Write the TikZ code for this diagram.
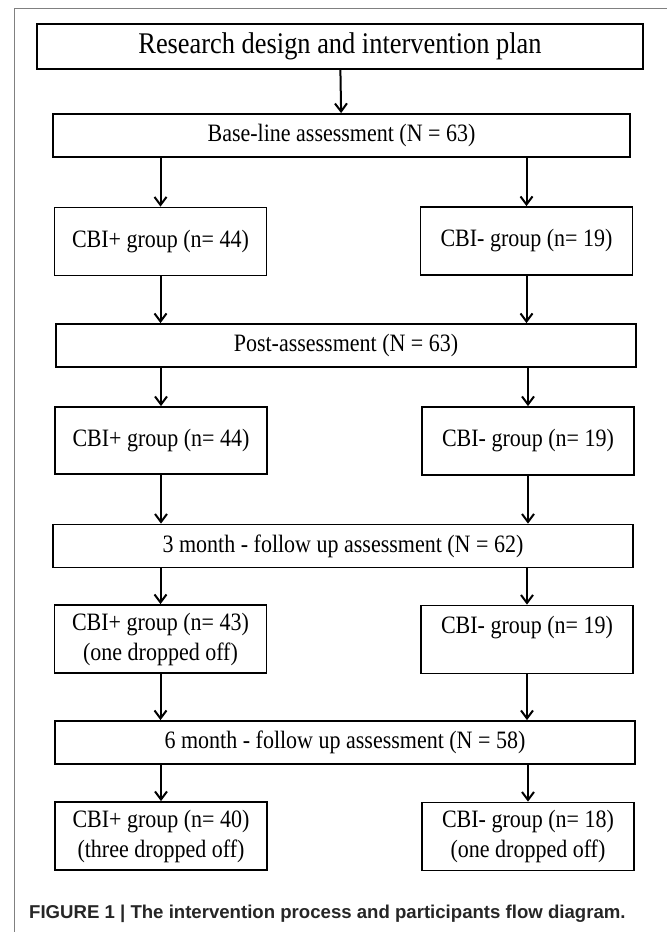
\documentclass[tikz,border=0pt]{standalone}
\usepackage{fontspec}
\setmainfont[FakeStretch=0.88]{Liberation Serif}
\setsansfont{Liberation Sans}
\usetikzlibrary{arrows.meta,positioning}

\begin{document}
\begin{tikzpicture}[x=1pt,y=-1pt,
    box/.style={draw, line width=1.8pt, inner sep=0pt, align=center,
      font=\fontsize{25}{30}\selectfont},
    wide/.style={box, minimum width=580pt, minimum height=43pt},
    grp/.style={box, minimum width=212pt, minimum height=68pt},
    arr/.style={-{Straight Barb[length=8pt,width=12pt]}, line width=2pt}]
        \useasboundingbox (0,0) rectangle (667,932);
        % Bingkai
        \draw[gray, line width=1pt] (14,932) -- (14,8) -- (667,8);
        % Judul
        \node[box, minimum width=606pt, minimum height=45pt,
          font=\fontsize{30}{32}\selectfont] (plan) at (340,46.5) {Research design and intervention plan};
        % Tahap penilaian
        \node[wide, minimum width=577pt] (base) at (341.5,135.5) {Base-line assessment (N = 63)};
        \node[wide] (post) at (346,345.5) {Post-assessment (N = 63)};
        \node[wide] (three) at (343,546) {3 month - follow up assessment (N = 62)};
        \node[wide] (six) at (345,742.5) {6 month - follow up assessment (N = 58)};
        % Kelompok CBI+
        \node[grp] (plusA) at (160.5,241.5) {CBI+ group (n= 44)};
        \node[grp, minimum height=67pt] (plusB) at (161,440.5) {CBI+ group (n= 44)};
        \node[grp] (plusC) at (160.5,639) {CBI+ group (n= 43)\\(one dropped off)};
        \node[grp] (plusD) at (161,836) {CBI+ group (n= 40)\\(three dropped off)};
        % Kelompok CBI-
        \node[grp] (minA) at (526.5,241) {CBI- group (n= 19)};
        \node[grp] (minB) at (528,441) {CBI- group (n= 19)};
        \node[grp] (minC) at (527,639.5) {CBI- group (n= 19)\\~};
        \node[grp] (minD) at (528,836.5) {CBI- group (n= 18)\\(one dropped off)};
        % Panah
        \draw[arr] (plan) -- (base);
        \draw[arr] (base.south -| plusA.north) -- (plusA);
        \draw[arr] (base.south -| minA.north) -- (minA);
        \draw[arr] (plusA) -- (plusA.south |- post.north);
        \draw[arr] (minA) -- (minA.south |- post.north);
        \draw[arr] (post.south -| plusB.north) -- (plusB);
        \draw[arr] (post.south -| minB.north) -- (minB);
        \draw[arr] (plusB) -- (plusB.south |- three.north);
        \draw[arr] (minB) -- (minB.south |- three.north);
        \draw[arr] (three.south -| plusC.north) -- (plusC);
        \draw[arr] (three.south -| minC.north) -- (minC);
        \draw[arr] (plusC) -- (plusC.south |- six.north);
        \draw[arr] (minC) -- (minC.south |- six.north);
        \draw[arr] (six.south -| plusD.north) -- (plusD);
        \draw[arr] (six.south -| minD.north) -- (minD);
        % Keterangan
        \node[anchor=west, inner sep=0pt, text=black!85,
          font=\sffamily\bfseries\fontsize{18.6}{21}\selectfont] (cap) at (29,914) {FIGURE 1 | The intervention process and participants flow diagram.};
      \end{tikzpicture}
\end{document}
